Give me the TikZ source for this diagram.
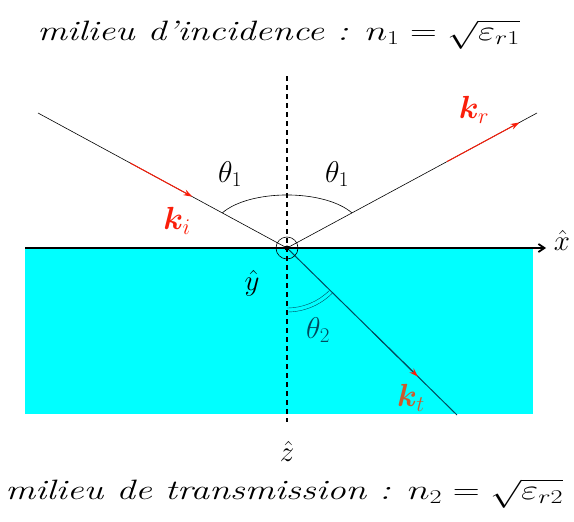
\RequirePackage{fix-cm}
\documentclass[tikz,border=0pt]{standalone}
\usepackage{amsmath,bm}
\usetikzlibrary{positioning,arrows.meta,calc}
\definecolor{milieu}{RGB}{0,255,255}
\definecolor{kred}{RGB}{250,30,10}
\definecolor{ktrans}{RGB}{205,90,45}
\definecolor{deepteal}{RGB}{0,75,95}
\tikzset{
  ray/.style={line width=0.6pt,black},
  kvec/.style={-{Stealth[length=9pt,width=6pt]},kred,line width=1pt},
  klabel/.style={kred,inner sep=0pt,font=\fontsize{32}{34}\selectfont},
  anglab/.style={inner sep=0pt,font=\fontsize{30}{32}\selectfont},
  axlab/.style={inner sep=0pt,font=\fontsize{29}{31}\selectfont},
  legende/.style={font=\fontsize{28}{30}\selectfont\itshape,inner sep=0pt,xscale=1.326},
}
\begin{document}
\begin{tikzpicture}[x=1pt,y=-1pt]
        \useasboundingbox (0,0) rectangle (574,522);
        \fill[milieu] (25,248) rectangle (533,414);
        \coordinate (O) at (287,248);
        \coordinate (inc) at (38,113);
        \coordinate (refl) at (537,113);
        \coordinate (trans) at (457,415);
        \coordinate (xa) at (25,248);
        \coordinate (xb) at (546,248);
        \coordinate (za) at (287,76);
        \coordinate (zb) at (287,422);
        \draw[line width=1.8pt,-{Straight Barb[length=6pt,width=8pt]}] (xa) -- (xb);
        \draw[dashed,line width=1.2pt,dash pattern=on 5pt off 4pt] (za) -- (zb);
        \draw[ray] (inc) -- (O);
        \draw[ray] (O) -- (refl);
        \draw[deepteal,line width=1pt] (O) -- (trans);
        \draw[kvec] ($(inc)!0.37!(O)$) -- ($(inc)!0.62!(O)$);
        \draw[kvec] ($(O)!0.64!(refl)$) -- ($(O)!0.93!(refl)$);
        \draw[kvec,deepteal,-{Stealth[length=9pt,width=6pt,color=kred]}]
          ($(O)!0.5!(trans)$) -- ($(O)!0.77!(trans)$);
        \draw[ray] ($(O)!0.26!(inc)$) .. controls (250,189) and (324,189)
          .. ($(O)!0.26!(refl)$);
        \draw[deepteal,thin] ($(O)+(0,60)$) arc[start angle=90,end angle=45,radius=60];
        \draw[deepteal,thin] ($(O)+(0,64)$) arc[start angle=90,end angle=45,radius=64];
        \draw[ray] (O) circle[radius=11];
        \fill (O) circle[radius=2.5];
        \node[klabel] (ki) at (177,221) {$\bm{k}_i$};
        \node[klabel] (kr) at (474,110) {$\bm{k}_r$};
        \node[klabel,ktrans] (kt) at (411,398) {$\bm{k}_t$};
        \node[anglab] (th1a) at (230,174) {$\theta_1$};
        \node[anglab] (th1b) at (337,174) {$\theta_1$};
        \node[anglab,deepteal] (th2) at (318,330) {$\theta_2$};
        \node[axlab] (yh) at (252,283) {$\hat{y}$};
        \node[axlab] (xh) at (562,240) {$\hat{x}$};
        \node[axlab] (zh) at (287,451) {$\hat{z}$};
        \node[legende,anchor=base west] (milinc) at (37,40)
          {milieu d'incidence : $n_1=\sqrt{\varepsilon_{r1}}$};
        \node[legende,anchor=base west,xscale=1.006] (miltr) at (5,499)
          {milieu de transmission : $n_2=\sqrt{\varepsilon_{r2}}$};
      \end{tikzpicture}
\end{document}
